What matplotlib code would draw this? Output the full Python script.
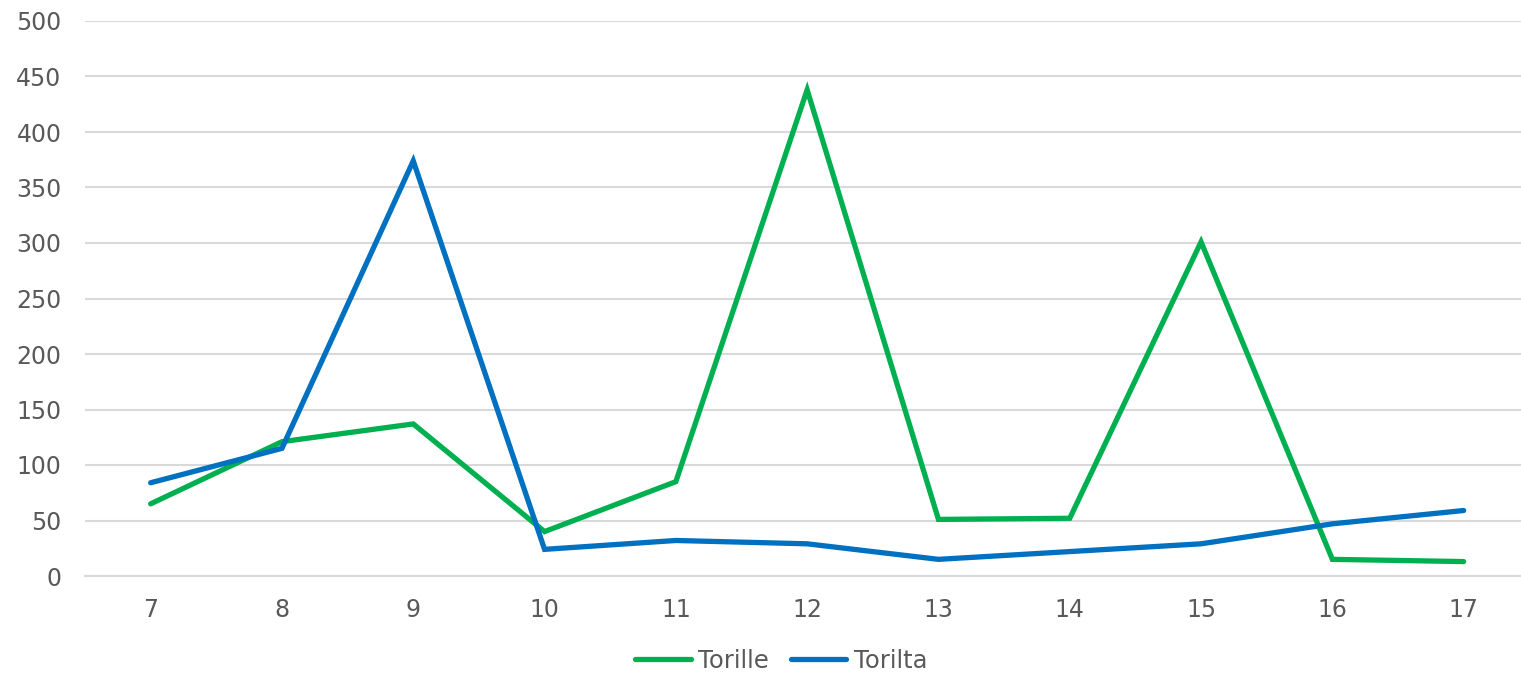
import matplotlib
matplotlib.use("Agg")
import matplotlib.pyplot as plt

hours = [7, 8, 9, 10, 11, 12, 13, 14, 15, 16, 17]
torille = [65, 121, 137, 40, 85, 438, 51, 52, 301, 15, 13]
torilta = [84, 115, 374, 24, 32, 29, 15, 22, 29, 47, 59]
y_ticks = [0, 50, 100, 150, 200, 250, 300, 350, 400, 450, 500]

W, H = 1521, 674
fig = plt.figure(figsize=(W / 100, H / 100), dpi=100)
ax = fig.add_axes([85 / W, (H - 576) / H, (W - 85) / W, (576 - 21) / H])

text_color = "#595959"
grid_color = "#D9D9D9"

ax.plot(hours, torille, color="#00B050", lw=3.8, solid_capstyle="round",
        solid_joinstyle="miter", label="Torille", zorder=3)
ax.plot(hours, torilta, color="#0070C0", lw=3.8, solid_capstyle="round",
        solid_joinstyle="miter", label="Torilta", zorder=3)

ax.set_xlim(6.5, 6.5 + (W - 85) / 131.3)
ax.set_ylim(0, 500)
ax.set_yticks(y_ticks)
ax.set_xticks(hours)
ax.set_xticklabels([str(h) for h in hours])
ax.yaxis.grid(True, color=grid_color, lw=1.5)
ax.set_axisbelow(True)
for s in ["top", "right", "left"]:
    ax.spines[s].set_visible(False)
ax.spines["bottom"].set_color(grid_color)
ax.spines["bottom"].set_linewidth(1.5)
ax.tick_params(axis="both", length=0, labelsize=17, colors=text_color)
ax.tick_params(axis="y", pad=17)
ax.tick_params(axis="x", pad=16)

leg = fig.legend(loc="center", bbox_to_anchor=(781 / W, (H - 661) / H), ncol=2,
                 frameon=False, fontsize=17.5, handlelength=2.3,
                 handletextpad=0.3, columnspacing=0.9)
for t in leg.get_texts():
    t.set_color(text_color)

fig.savefig("out.png", dpi=100)
